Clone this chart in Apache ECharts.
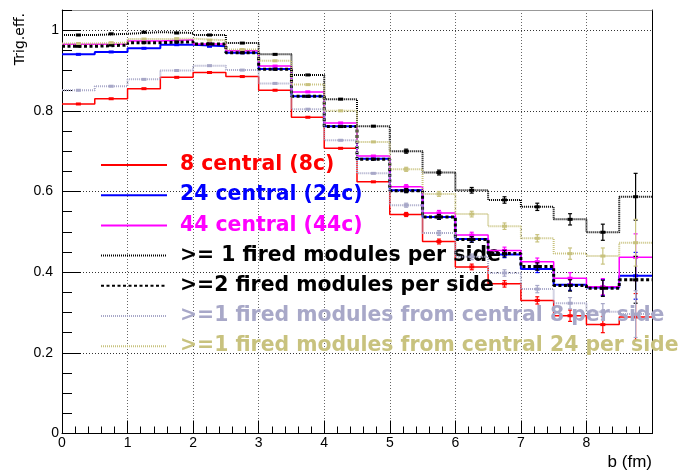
<!DOCTYPE html>
<html>
<head>
<meta charset="utf-8">
<title>Trigger efficiency vs impact parameter</title>
<script src="https://cdn.jsdelivr.net/npm/echarts@6/dist/echarts.min.js"></script>
<style>
  html, body { margin: 0; padding: 0; background: #fff; }
  #chart { width: 681px; height: 471px; }
</style>
</head>
<body>
<div id="chart"></div>
<script>
// Bin edges of the impact parameter histograms (fm), 0.5 fm wide bins
const binEdges = [0, 0.5, 1, 1.5, 2, 2.5, 3, 3.5, 4, 4.5, 5, 5.5, 6, 6.5, 7, 7.5, 8, 8.5, 9];

// Trigger efficiency per bin for each trigger condition
const eff8c   = [0.817, 0.830, 0.855, 0.883, 0.895, 0.885, 0.851, 0.784, 0.707, 0.624, 0.543, 0.476, 0.413, 0.371, 0.330, 0.292, 0.270, 0.289];
const eff24c  = [0.940, 0.946, 0.955, 0.964, 0.960, 0.944, 0.904, 0.836, 0.762, 0.681, 0.603, 0.537, 0.482, 0.444, 0.408, 0.369, 0.362, 0.391];
const eff44c  = [0.965, 0.966, 0.973, 0.976, 0.966, 0.949, 0.911, 0.847, 0.770, 0.688, 0.612, 0.547, 0.492, 0.454, 0.426, 0.385, 0.364, 0.437];
const effGe1  = [0.988, 0.991, 0.995, 0.993, 0.988, 0.968, 0.940, 0.889, 0.829, 0.762, 0.700, 0.647, 0.603, 0.579, 0.562, 0.531, 0.499, 0.587];
const effGe2  = [0.960, 0.963, 0.969, 0.971, 0.966, 0.944, 0.903, 0.836, 0.761, 0.680, 0.602, 0.537, 0.481, 0.446, 0.414, 0.367, 0.360, 0.381];
const effGe1c8  = [0.851, 0.861, 0.878, 0.900, 0.912, 0.901, 0.868, 0.804, 0.727, 0.645, 0.566, 0.497, 0.438, 0.398, 0.358, 0.323, 0.302, 0.296];
const effGe1c24 = [0.967, 0.969, 0.978, 0.979, 0.975, 0.952, 0.924, 0.865, 0.800, 0.723, 0.655, 0.594, 0.544, 0.514, 0.484, 0.446, 0.440, 0.473];

// Statistical uncertainty per bin
const binErr = [0.003, 0.003, 0.003, 0.003, 0.003, 0.003, 0.003, 0.004, 0.004, 0.004, 0.005, 0.006, 0.007, 0.008, 0.009, 0.014, 0.020, 0.058];

// Axis ticks
const xTicks = [0, 1, 2, 3, 4, 5, 6, 7, 8];
const yTicks = [0, 0.2, 0.4, 0.6, 0.8, 1];

const curves = [
  { name: '8 central (8c)', values: eff8c, color: '#ff0000', width: 1.5, dash: 'solid' },
  { name: '24 central (24c)', values: eff24c, color: '#0000ff', width: 2, dash: 'solid' },
  { name: '44 central (44c)', values: eff44c, color: '#ff00ff', width: 1.5, dash: 'solid' },
  { name: '>= 1 fired modules per side', values: effGe1, color: '#000000', width: 2, dash: [1, 1] },
  { name: '>=2 fired modules per side', values: effGe2, color: '#000000', width: 3, dash: [3, 2.5] },
  { name: '>=1 fired modules from central 8 per side', values: effGe1c8, color: '#a8a8c8', width: 2, dash: [1, 1] },
  { name: '>=1 fired modules from central 24 per side', values: effGe1c24, color: '#c8c27e', width: 2, dash: [1, 1] }
];

const nBins = binEdges.length - 1;
const binCenters = binEdges.slice(0, nBins).map((lo, i) => (lo + binEdges[i + 1]) / 2);

const series = [];
curves.forEach((c, k) => {
  // Histogram outline: one point per bin edge, held until the next edge
  series.push({
    name: c.name,
    type: 'line',
    step: 'end',
    symbol: 'none',
    silent: true,
    z: 2 + k,
    lineStyle: { color: c.color, width: c.width, type: c.dash },
    itemStyle: { color: c.color },
    data: binEdges.map((x, i) => [x, c.values[Math.min(i, nBins - 1)]])
  });
  // Error bars and bin-centre markers
  series.push({
    type: 'custom',
    silent: true,
    z: 2 + k,
    data: c.values.map((v, i) => [binCenters[i], v, binErr[i]]),
    encode: { x: 0, y: 1 },
    renderItem: (params, api) => {
      const x = api.value(0), y = api.value(1), e = api.value(2);
      const p = api.coord([x, y]);
      const hi = api.coord([x, y + e]);
      const lo = api.coord([x, y - e]);
      const children = [];
      if (lo[1] - hi[1] > 4) {
        children.push({ type: 'line', shape: { x1: p[0], y1: hi[1], x2: p[0], y2: lo[1] },
          style: { stroke: c.color, lineWidth: 1.2 } });
        children.push({ type: 'line', shape: { x1: p[0] - 2, y1: hi[1], x2: p[0] + 2, y2: hi[1] },
          style: { stroke: c.color, lineWidth: 1.2 } });
        children.push({ type: 'line', shape: { x1: p[0] - 2, y1: lo[1], x2: p[0] + 2, y2: lo[1] },
          style: { stroke: c.color, lineWidth: 1.2 } });
      }
      children.push({ type: 'rect', shape: { x: p[0] - 2.5, y: p[1] - 1.5, width: 5, height: 3 },
        style: { fill: c.color } });
      return { type: 'group', children };
    }
  });
});

const labelFont = { fontFamily: 'Liberation Sans', fontSize: 14, color: '#000' };

const chart = echarts.init(document.getElementById('chart'), null, { renderer: 'canvas' });
chart.setOption({
  animation: false,
  backgroundColor: '#ffffff',
  grid: { left: 62, right: 29, top: 10, bottom: 37.5, show: false, outerBoundsMode: 'none' },
  legend: {
    orient: 'vertical',
    left: 100,
    top: 153,
    padding: 0,
    itemWidth: 66,
    itemHeight: 14,
    itemGap: 6.2,
    selectedMode: false,
    itemStyle: { opacity: 0 },
    textStyle: { fontFamily: 'DejaVu Sans', fontWeight: 'bold', fontSize: 20.4, lineHeight: 24, padding: [0, 0, 0, 8] },
    data: curves.map(c => ({ name: c.name, textStyle: { color: c.color } }))
  },
  xAxis: [
    {
      type: 'value', position: 'bottom',
      min: xTicks[0], max: 9, interval: 1,
      axisLine: { show: true, onZero: false, lineStyle: { color: '#000', width: 1 } },
      axisTick: { show: true, inside: true, length: 13, lineStyle: { color: '#000', width: 1 } },
      minorTick: { show: true, splitNumber: 5, length: 7, lineStyle: { color: '#000', width: 1 } },
      axisLabel: Object.assign({ margin: 3, showMaxLabel: false,
        formatter: v => xTicks.includes(v) ? String(v) : '' }, labelFont),
      splitLine: { show: true, lineStyle: { color: '#666', width: 1, type: [1, 2] } },
      name: 'b (fm)',
      nameLocation: 'end',
      nameGap: 0,
      nameTextStyle: { fontFamily: 'Liberation Sans', fontSize: 17, color: '#000',
        align: 'right', verticalAlign: 'top', padding: [20, 0, 0, 0] }
    },
    {
      type: 'value', position: 'top', min: 0, max: 9,
      axisLine: { show: true, onZero: false, lineStyle: { color: '#999', width: 1 } },
      axisTick: { show: false }, axisLabel: { show: false }, splitLine: { show: false }
    }
  ],
  yAxis: [
    {
      type: 'value', position: 'left',
      min: yTicks[0], max: 1.05, interval: 0.2,
      axisLine: { show: true, onZero: false, lineStyle: { color: '#000', width: 1 } },
      axisTick: { show: true, inside: true, length: 19, lineStyle: { color: '#000', width: 1 } },
      axisLabel: Object.assign({ margin: 3, showMaxLabel: false,
        formatter: v => {
          const t = yTicks.find(y => Math.abs(y - v) < 1e-6);
          if (t === undefined) return '';
          return Number.isInteger(t) ? '{i|' + t + '}' : '{d|' + t + '}';
        },
        rich: { i: labelFont, d: Object.assign({ padding: [0, 6, 0, 0] }, labelFont) } }, labelFont),
      splitLine: { show: true, lineStyle: { color: '#333', width: 1, type: [1, 2] } }
    },
    {
      // secondary divisions of the efficiency axis
      type: 'value', position: 'left',
      min: 0, max: 1.05, interval: 0.05,
      axisLine: { show: false },
      axisTick: { show: true, inside: true, length: 10, lineStyle: { color: '#000', width: 1 } },
      axisLabel: { show: false }, splitLine: { show: false }
    },
    {
      type: 'value', position: 'right', min: 0, max: 1.05,
      axisLine: { show: true, onZero: false, lineStyle: { color: '#000', width: 1 } },
      axisTick: { show: false }, axisLabel: { show: false }, splitLine: { show: false }
    }
  ],
  graphic: [
    {
      type: 'text',
      x: 20, y: 13,
      rotation: Math.PI / 2,
      style: { text: 'Trig.eff.', fontFamily: 'DejaVu Sans', fontSize: 14, fill: '#000',
        textAlign: 'right', textVerticalAlign: 'middle' }
    }
  ],
  series
});
</script>
</body>
</html>
